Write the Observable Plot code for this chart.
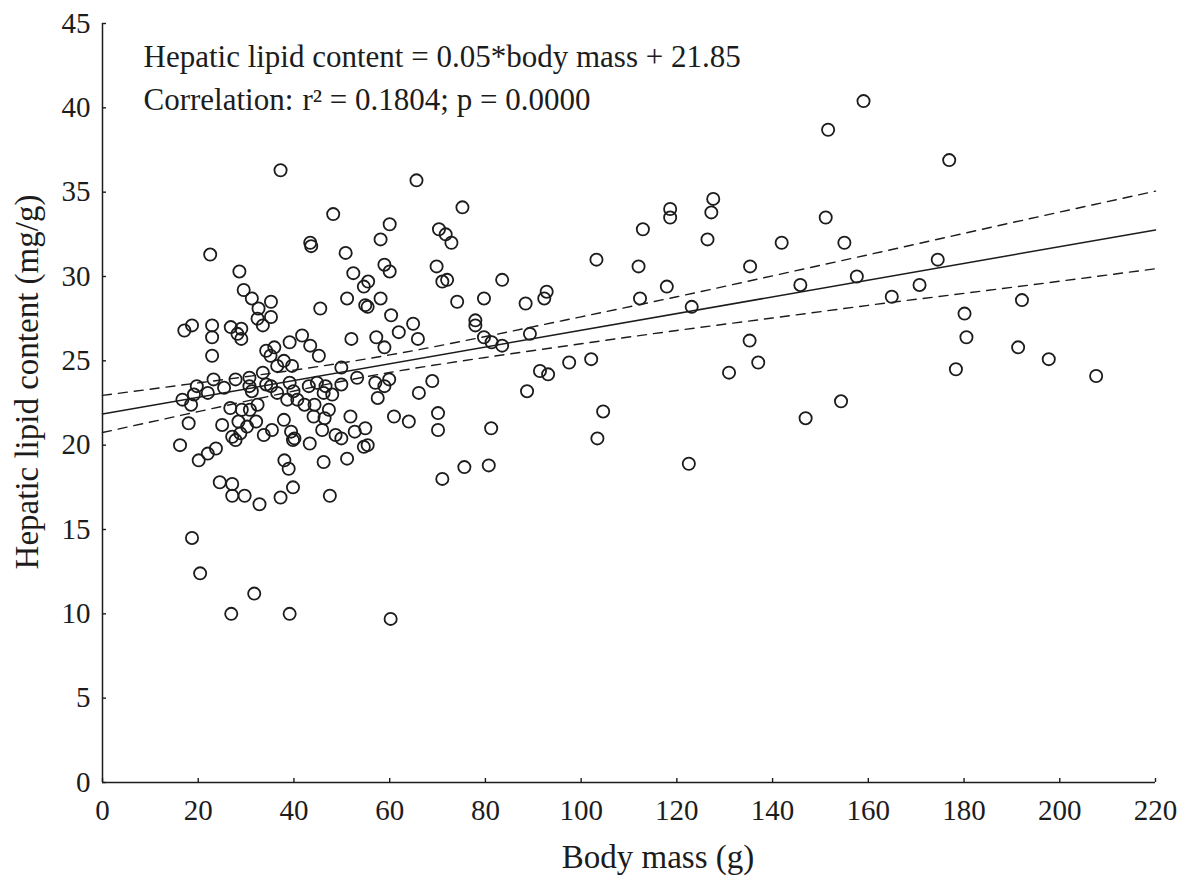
<!DOCTYPE html>
<html><head><meta charset="utf-8">
<script src="https://cdn.jsdelivr.net/npm/d3@7"></script>
<script src="https://cdn.jsdelivr.net/npm/@observablehq/plot@0.6"></script>
<style>html,body{margin:0;padding:0;background:#fff;overflow:hidden}</style>
</head><body><div id="chart"></div>
<script>
// Body mass (g) of each animal
const bodyMass = [
22.5,28.6,29.5,31.2,32.6,35.2,32.4,35.2,33.5,43.4,43.6,50.8,51.1,45.5,52.4,17.1,18.7,22.9,22.9,22.9,
26.8,28.2,29.0,29.0,34.2,35.9,35.1,39.1,41.7,43.4,45.2,36.5,37.9,39.6,33.5,49.9,49.9,52.0,19.7,23.2,
22.0,25.4,27.8,30.7,30.7,31.2,34.2,35.2,36.5,39.1,39.9,38.6,40.7,43.1,44.8,46.2,48.0,46.6,42.2,44.3,
47.3,46.4,44.1,51.8,16.7,18.5,19.1,26.7,29.1,30.8,32.4,18.0,25.0,28.4,32.1,37.9,30.2,27.1,27.8,28.8,
33.7,35.4,39.4,40.1,39.8,45.9,43.3,48.7,49.9,51.1,46.2,16.2,23.7,22.0,20.1,38.0,38.9,24.5,27.1,27.1,
29.7,32.8,37.2,39.8,47.5,18.7,20.4,31.7,26.9,39.1,65.6,75.2,48.2,60.0,58.1,70.3,71.7,72.9,54.6,55.5,
58.9,60.0,69.8,71.0,72.0,83.5,54.9,55.4,58.1,60.3,74.1,79.7,88.4,64.9,61.9,65.9,57.2,58.9,77.9,77.9,
79.7,81.3,83.5,89.3,53.2,57.0,58.9,59.9,68.9,57.5,66.1,88.7,60.9,64.0,70.1,70.1,81.2,52.7,54.9,54.6,
55.4,75.6,80.7,71.0,127.6,127.2,118.6,118.6,112.9,126.4,103.2,112.0,117.9,92.8,92.3,112.3,123.1,97.5,102.1,91.4,
93.1,104.6,103.4,122.5,159.0,151.6,176.9,151.1,141.9,155.0,135.3,174.5,145.8,157.6,170.7,164.9,192.1,180.1,180.5,135.2,
137.0,130.9,191.3,178.3,197.7,207.6,154.3,146.9,60.2,37.2
];
// Hepatic lipid content (mg/g) of each animal
const lipidContent = [
31.3,30.3,29.2,28.7,28.1,28.5,27.5,27.6,27.1,32.0,31.8,31.4,28.7,28.1,30.2,26.8,27.1,27.1,26.4,25.3,
27.0,26.6,26.9,26.3,25.6,25.8,25.3,26.1,26.5,25.9,25.3,24.7,25.0,24.7,24.3,24.6,23.6,26.3,23.5,23.9,
23.1,23.4,23.9,24.0,23.5,23.2,23.6,23.5,23.1,23.7,23.2,22.7,22.7,23.5,23.7,23.1,23.0,23.5,22.4,22.4,
22.1,21.6,21.7,21.7,22.7,22.4,23.0,22.2,22.1,22.1,22.4,21.3,21.2,21.4,21.4,21.5,21.1,20.5,20.3,20.7,
20.6,20.9,20.8,20.4,20.3,20.9,20.1,20.6,20.4,19.2,19.0,20.0,19.8,19.5,19.1,19.1,18.6,17.8,17.7,17.0,
17.0,16.5,16.9,17.5,17.0,14.5,12.4,11.2,10.0,10.0,35.7,34.1,33.7,33.1,32.2,32.8,32.5,32.0,29.4,29.7,
30.7,30.3,30.6,29.7,29.8,29.8,28.3,28.2,28.7,27.7,28.5,28.7,28.4,27.2,26.7,26.3,26.4,25.8,27.4,27.1,
26.4,26.1,25.9,26.6,24.0,23.7,23.5,23.9,23.8,22.8,23.1,23.2,21.7,21.4,21.9,20.9,21.0,20.8,21.0,19.9,
20.0,18.7,18.8,18.0,34.6,33.8,34.0,33.5,32.8,32.2,31.0,30.6,29.4,29.1,28.7,28.7,28.2,24.9,25.1,24.4,
24.2,22.0,20.4,18.9,40.4,38.7,36.9,33.5,32.0,32.0,30.6,31.0,29.5,30.0,29.5,28.8,28.6,27.8,26.4,26.2,
24.9,24.3,25.8,24.5,25.1,24.1,22.6,21.6,9.7,36.3
];
// Fitted regression line and its confidence limits
const fitX = [0, 220];
const fitY = [21.85, 32.76];
const bandX     = [0, 20, 40, 60, 80, 100, 120, 140, 160, 180, 200, 220];
const bandUpper = [22.95, 23.69, 24.45, 25.35, 26.44, 27.61, 28.80, 30.04, 31.29, 32.56, 33.82, 35.06];
const bandLower = [20.75, 21.99, 23.21, 24.31, 25.20, 26.01, 26.80, 27.54, 28.29, 29.00, 29.72, 30.46];

const xTicks = [0, 20, 40, 60, 80, 100, 120, 140, 160, 180, 200, 220];
const yTicks = [0, 5, 10, 15, 20, 25, 30, 35, 40, 45];
const xLabel = "Body mass (g)";
const yLabel = "Hepatic lipid content (mg/g)";
const equationText = "Hepatic lipid content = 0.05*body mass + 21.85";
const corrLabel = "Correlation:";
const corrValues = "r² = 0.1804; p = 0.0000";

const W = 1185, H = 879, ml = 102, mr = 30, mt = 23, mb = 97;
const plotW = W - ml - mr, plotH = H - mt - mb;
const ink = "#1c1c1c";

const points = bodyMass.map((x, i) => ({x, y: lipidContent[i]}));
const fit = fitX.map((x, i) => ({x, y: fitY[i]}));
const upper = bandX.map((x, i) => ({x, y: bandUpper[i]}));
const lower = bandX.map((x, i) => ({x, y: bandLower[i]}));

const chart = Plot.plot({
  width: W, height: H,
  marginLeft: ml, marginRight: mr, marginTop: mt, marginBottom: mb,
  style: {fontFamily: "'Liberation Serif', 'DejaVu Serif', serif", color: ink, background: "#fff", overflow: "visible"},
  x: {domain: [0, 220]},
  y: {domain: [0, 45]},
  marks: [
    Plot.line(upper, {x: "x", y: "y", stroke: ink, strokeWidth: 1.4, strokeDasharray: "9,7", curve: "natural"}),
    Plot.line(lower, {x: "x", y: "y", stroke: ink, strokeWidth: 1.4, strokeDasharray: "9,7", curve: "natural"}),
    Plot.line(fit, {x: "x", y: "y", stroke: ink, strokeWidth: 1.5}),
    Plot.dot(points, {x: "x", y: "y", r: 6.1, stroke: ink, strokeWidth: 1.8, fill: "none"}),
    Plot.ruleX([0], {stroke: ink, strokeWidth: 1.5}),
    Plot.ruleY([0], {stroke: ink, strokeWidth: 1.5}),
    Plot.tickX(xTicks, {x: d => d, insetTop: plotH - 4, stroke: ink, strokeWidth: 1.4}),
    Plot.tickY(yTicks, {y: d => d, insetRight: plotW - 4, stroke: ink, strokeWidth: 1.4}),
    Plot.axisX({ticks: xTicks, tickSize: 0, tickPadding: 17, fontSize: 29, label: null, tickFormat: d => String(d)}),
    Plot.axisY({ticks: yTicks, tickSize: 0, tickPadding: 12, fontSize: 29, label: null, tickFormat: d => String(d)}),
    Plot.text([xLabel], {frameAnchor: "bottom", dx: 29, dy: 75, fontSize: 33, lineAnchor: "middle", textAnchor: "middle", fill: ink}),
    Plot.text([yLabel], {frameAnchor: "left", rotate: -90, dx: -75, dy: -21, fontSize: 33, lineAnchor: "middle", textAnchor: "middle", fill: ink}),
    Plot.text([equationText], {frameAnchor: "top-left", dx: 41, dy: 34, fontSize: 31, lineAnchor: "middle", textAnchor: "start", fill: ink}),
    Plot.text([corrLabel], {frameAnchor: "top-left", dx: 41, dy: 77, fontSize: 31, lineAnchor: "middle", textAnchor: "start", fill: ink}),
    Plot.text([corrValues], {frameAnchor: "top-left", dx: 200, dy: 77, fontSize: 31, lineAnchor: "middle", textAnchor: "start", fill: ink})
  ]
});
document.getElementById("chart").appendChild(chart);
</script>
</body></html>
